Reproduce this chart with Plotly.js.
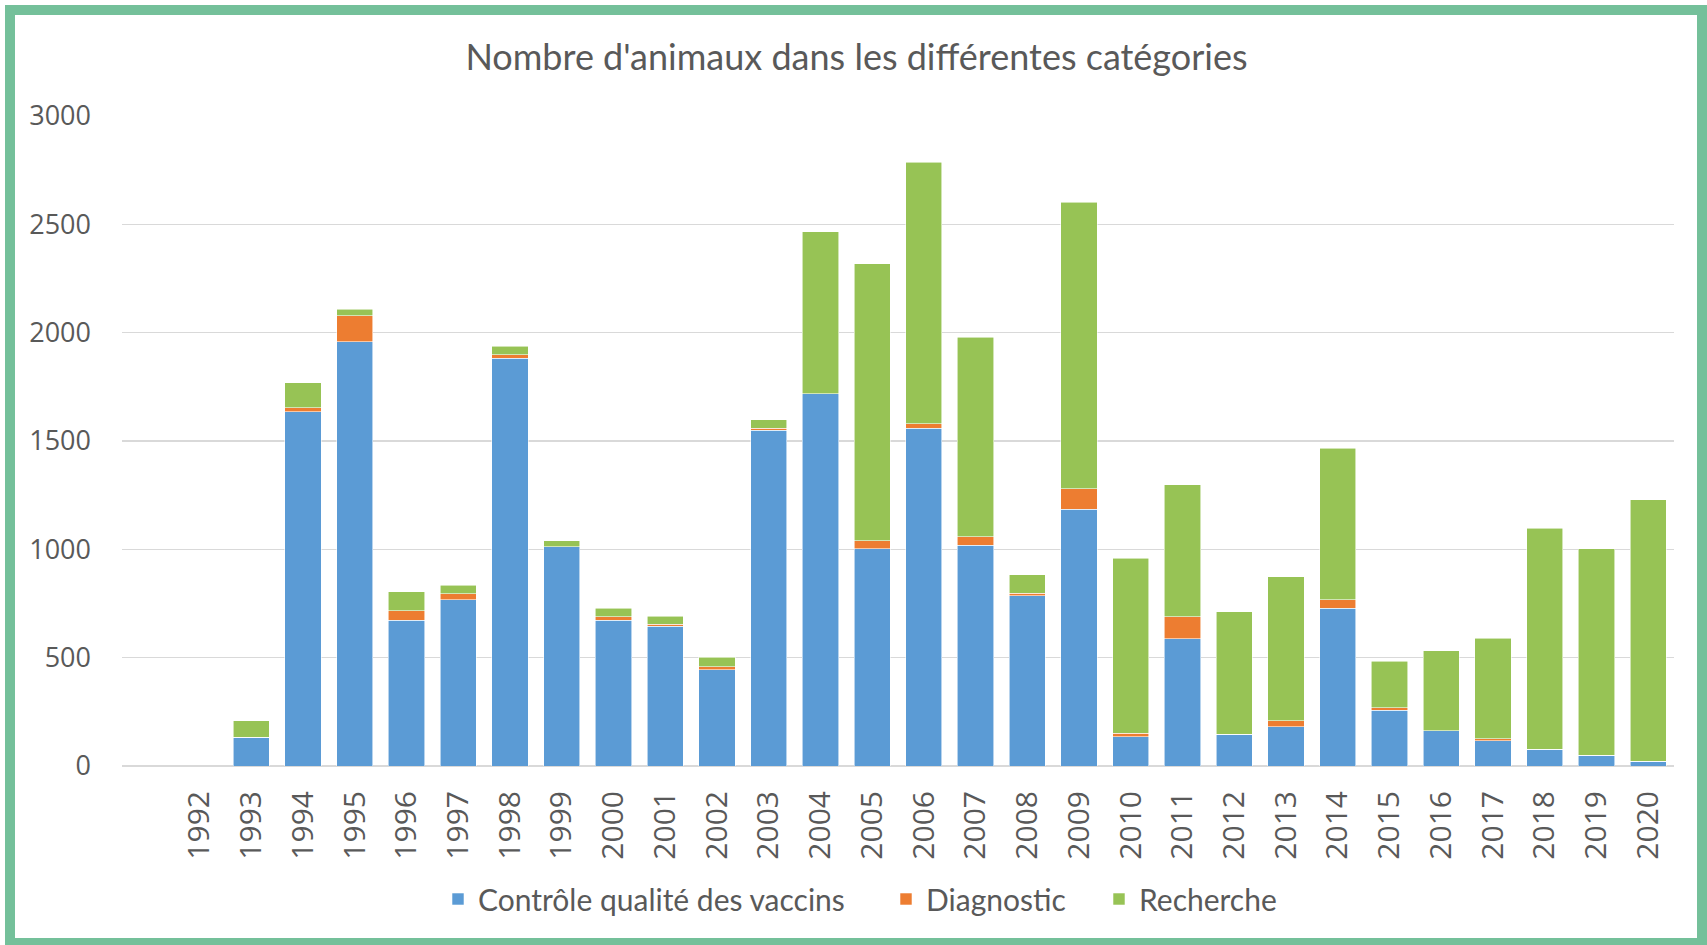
<!DOCTYPE html>
<html>
<head>
<meta charset="utf-8">
<script src="https://cdn.plot.ly/plotly-3.0.1.min.js"></script>
<style>
  html, body { margin: 0; padding: 0; background: #ffffff; }
  #chart { position: absolute; left: 0; top: 0; width: 1707px; height: 945px; }
  #frame { position: absolute; left: 5px; top: 5px; width: 1682px; height: 923px;
           border: 10px solid #74C09A; pointer-events: none; }
</style>
</head>
<body>
<div id="chart"></div>
<div id="frame"></div>
<script>
const years = [1992,1993,1994,1995,1996,1997,1998,1999,2000,2001,2002,2003,2004,2005,2006,2007,2008,2009,2010,2011,2012,2013,2014,2015,2016,2017,2018,2019,2020];
const yearLabels = years.map(String);
const vaccins    = [0,132,1634,1957,672,768,1881,1011,672,645,445,1549,1718,1003,1559,1020,785,1185,134,587,146,181,729,258,163,117,78,49,21];
const diagnostic = [0,0,20,122,45,27,18,0,18,10,12,10,0,37,21,39,12,94,18,103,0,27,39,10,0,9,0,0,0];
const recherche  = [0,78,116,30,88,39,39,29,39,37,46,40,748,1278,1207,919,85,1323,806,608,565,665,699,216,368,463,1020,954,1209];
const seriesNames = ["Contrôle qualité des vaccins", "Diagnostic", "Recherche"];
const yTicks = [0, 500, 1000, 1500, 2000, 2500, 3000];

const colors = ["#5B9BD5", "#ED7D31", "#97C355"];
const seriesValues = [vaccins, diagnostic, recherche];
const legendIds = ["legend", "legend2", "legend3"];

const traces = seriesValues.map((vals, i) => ({
  type: "bar",
  name: seriesNames[i],
  x: years,
  y: vals,
  legend: legendIds[i],
  marker: { color: colors[i], line: { color: "rgba(255,255,255,0.7)", width: 0.8 } },
  hoverinfo: "skip"
}));

const grey = "#595959";
const legendFont = { family: "Lato, 'Open Sans', sans-serif", size: 30, color: grey };
// left edge (px) of each legend entry
const legendLeft = [438, 886, 1099];
function makeLegend(px) {
  return {
    orientation: "h",
    xref: "container", x: px / 1707, xanchor: "left",
    yref: "container", y: 1 - 899 / 945, yanchor: "middle",
    font: legendFont,
    itemclick: false,
    itemdoubleclick: false
  };
}

const layout = {
  width: 1707,
  height: 945,
  barmode: "stack",
  bargap: 0.3,
  paper_bgcolor: "#ffffff",
  plot_bgcolor: "#ffffff",
  margin: { l: 122, r: 33, t: 116, b: 179, pad: 0 },
  title: {
    text: "Nombre d'animaux dans les différentes catégories",
    font: { family: "Lato, 'Open Sans', sans-serif", size: 36, color: grey, weight: 400 },
    x: 856.5 / 1707, xref: "container", xanchor: "center",
    y: 1 - 57 / 945, yref: "container", yanchor: "middle"
  },
  xaxis: {
    range: [1990.5, 2020.5],
    tickmode: "array",
    tickvals: years,
    ticktext: yearLabels,
    tickangle: -90,
    showgrid: false,
    zeroline: false,
    showline: false,
    ticks: "",
    ticklabelstandoff: 18,
    tickfont: { family: "'Open Sans', sans-serif", size: 30, color: grey },
    fixedrange: true
  },
  yaxis: {
    range: [0, 3000],
    tickmode: "array",
    tickvals: yTicks,
    ticktext: yTicks.map(String),
    showgrid: true,
    gridcolor: "#D9D9D9",
    gridwidth: 1.5,
    zeroline: true,
    zerolinecolor: "#D9D9D9",
    zerolinewidth: 1.5,
    showline: false,
    ticks: "",
    ticklabelstandoff: 30,
    tickfont: { family: "'Open Sans', sans-serif", size: 27, color: grey },
    fixedrange: true
  },
  showlegend: true,
  legend: makeLegend(legendLeft[0]),
  legend2: makeLegend(legendLeft[1]),
  legend3: makeLegend(legendLeft[2])
};

Plotly.newPlot("chart", traces, layout, { displayModeBar: false, staticPlot: true });
</script>
</body>
</html>
